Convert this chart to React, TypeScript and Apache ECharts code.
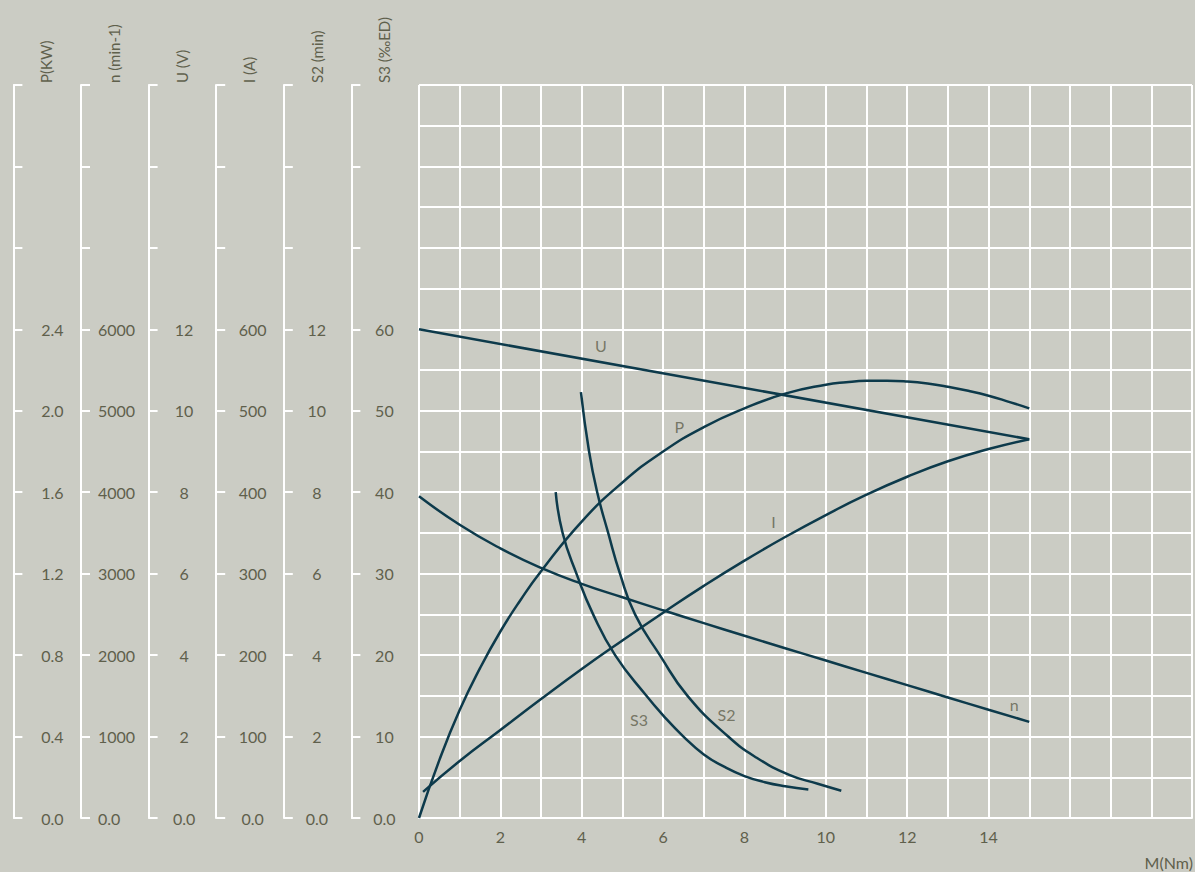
import React, { useEffect, useRef } from "react";
import * as echarts from "echarts";

// ---- data (torque in Nm on x) ----
const uTorque = [0, 15];
const uVolts = [12, 9.3];

const pTorque = [0, 0.5, 1, 1.5, 2, 2.5, 3, 4, 5, 6, 7, 8, 9, 10, 10.5, 11, 11.5, 12, 12.5, 13, 13.5, 14, 14.5, 15];
const pKw = [0, 0.284, 0.53, 0.736, 0.916, 1.072, 1.212, 1.456, 1.648, 1.8, 1.92, 2.012, 2.084, 2.128, 2.14, 2.147, 2.148, 2.144, 2.134, 2.118, 2.098, 2.074, 2.044, 2.012];

const nTorque = [0, 1, 2, 3, 4, 5, 6, 7, 8, 9, 10, 11, 12, 13, 14, 15];
const nRpm = [3950, 3600, 3310, 3070, 2875, 2710, 2550, 2393, 2238, 2085, 1933, 1782, 1631, 1480, 1330, 1180];

const iTorque = [0.1, 1, 2, 3, 4, 5, 6, 7, 8, 9, 10, 11, 12, 13, 14, 15];
const iAmps = [32, 70, 108, 146, 183, 218, 252, 285, 316, 345, 372, 397, 419, 438, 453, 465];

const s2Torque = [3.98, 4.18, 4.38, 4.65, 4.94, 5.31, 5.92, 6.6, 7.6, 8.3, 9.1, 9.8, 10.38];
const s2Min = [10.46, 9, 8, 7, 6, 5, 4, 3, 2, 1.48, 1.06, 0.84, 0.67];

const s3Torque = [3.36, 3.53, 3.87, 4.28, 4.82, 5.59, 6.0, 6.5, 7.0, 7.5, 8, 8.5, 9, 9.57];
const s3Pct = [40, 35, 30, 25, 20, 15, 12.6, 10, 7.8, 6.3, 5.15, 4.4, 3.9, 3.5];

// curve name labels (x in Nm, y on the 0-90 grid scale)
const curveLabelNames = ["U", "P", "I", "n", "S2", "S3"];
const curveLabelX = [4.47, 6.4, 8.71, 14.63, 7.56, 5.41];
const curveLabelY = [58.0, 48.1, 36.4, 13.9, 12.7, 12.1];

// side axes
const axisTitles = ["P(KW)", "n (min-1)", "U (V)", "I (A)", "S2 (min)", "S3 (‰ED)"];
const axisMax = [3.6, 9000, 18, 900, 18, 90];
const axisInterval = [0.4, 1000, 2, 100, 2, 10];
const axisLabelMax = [2.4, 6000, 12, 600, 12, 60];

const xLabelMax = 14;
const xAxisName = "M(Nm)";

const BG = "#cbccc4";
const TXT = "#5f604c";
const LINE = "#0d3a4b";
const FONT = "Lato, 'Noto Sans', sans-serif";

const pairs = (xs: number[], ys: number[]) => xs.map((x, i) => [x, ys[i]]);

export default function App() {
  const ref = useRef<HTMLDivElement>(null);
  useEffect(() => {
    const chart = echarts.init(ref.current!, null, { renderer: "svg" });
    const gridLeft = 419;
    const step = 67.6;
    const margins = [39, 17, 35.5, 36.5, 33, 33];
    const aligns = ["center", "left", "center", "center", "center", "center"];

    const sideAxes = axisTitles.map((t, i) => ({
      type: "value",
      position: "left",
      offset: step * (6 - i),
      min: 0,
      max: axisMax[i],
      interval: axisInterval[i],
      axisLine: { show: true, lineStyle: { color: "#ffffff", width: 2 } },
      axisTick: { show: true, inside: true, length: 9, lineStyle: { color: "#ffffff", width: 2 } },
      splitLine: { show: false },
      axisLabel: {
        show: true,
        inside: true,
        margin: margins[i],
        align: aligns[i],
        verticalAlign: "middle",
        padding: [0, 0, 10, 0],
        color: TXT,
        fontSize: 16,
        fontFamily: FONT,
        showMaxLabel: true,
        showMinLabel: true,
        formatter: (v: number) => {
          if (v > axisLabelMax[i] + 1e-9) return "";
          if (i === 0) return v.toFixed(1);
          if (v === 0) return "0.0";
          return String(Math.round(v));
        },
      },
    }));

    const lineSeries = (data: number[][], yIdx: number) => ({
      type: "line",
      xAxisIndex: 0,
      yAxisIndex: yIdx,
      data,
      smooth: 0.5,
      symbol: "none",
      lineStyle: { color: LINE, width: 2.5 },
      silent: true,
    });

    const option: any = {
      animation: false,
      backgroundColor: BG,
      grid: { left: gridLeft, right: 2, top: 85, bottom: 54, containLabel: false },
      xAxis: {
        type: "value",
        min: 0,
        max: 19,
        interval: 1,
        axisLine: { show: true, lineStyle: { color: "#ffffff", width: 2 } },
        axisTick: { show: false },
        splitLine: { show: true, lineStyle: { color: "#ffffff", width: 2 } },
        axisLabel: {
          color: TXT,
          fontSize: 16,
          fontFamily: FONT,
          margin: 10,
          formatter: (v: number) => (v % 2 === 0 && v <= xLabelMax ? String(v) : ""),
        },
      },
      yAxis: [
        {
          type: "value",
          position: "right",
          min: 0,
          max: 90,
          interval: 5,
          axisLine: { show: false },
          axisTick: { show: false },
          axisLabel: { show: false },
          splitLine: { show: true, lineStyle: { color: "#ffffff", width: 2 } },
        },
        ...sideAxes,
      ],
      series: [
        lineSeries(pairs(pTorque, pKw), 1),
        lineSeries(pairs(nTorque, nRpm), 2),
        lineSeries(pairs(uTorque, uVolts), 3),
        lineSeries(pairs(iTorque, iAmps), 4),
        lineSeries(pairs(s2Torque, s2Min), 5),
        lineSeries(pairs(s3Torque, s3Pct), 6),
        {
          type: "scatter",
          xAxisIndex: 0,
          yAxisIndex: 0,
          symbolSize: 1,
          itemStyle: { color: "rgba(0,0,0,0)" },
          data: curveLabelNames.map((n, i) => [curveLabelX[i], curveLabelY[i], n]),
          label: {
            show: true,
            position: "inside",
            color: TXT,
            fontSize: 16,
            fontFamily: FONT,
            formatter: (p: any) => p.value[2],
          },
          silent: true,
        },
      ],
      graphic: [
        ...axisTitles.map((t, i) => ({
          type: "text",
          x: gridLeft - step * (6 - i) + 33,
          y: 83,
          rotation: Math.PI / 2,
          style: {
            text: t,
            fill: TXT,
            fontSize: 15,
            fontFamily: FONT,
            align: "left",
            verticalAlign: "middle",
          },
        })),
        {
          type: "text",
          right: 2,
          top: 854,
          style: { text: xAxisName, fill: TXT, fontSize: 16, fontFamily: FONT },
        },
      ],
    };
    chart.setOption(option);
    return () => chart.dispose();
  }, []);
  return (
    <div
      ref={ref}
      style={{ position: "absolute", left: 0, top: 0, width: 1195, height: 872 }}
    />
  );
}
